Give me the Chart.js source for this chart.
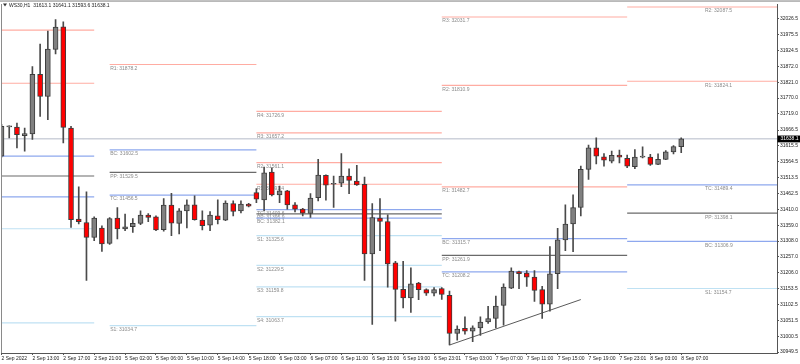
<!DOCTYPE html>
<html>
<head>
<meta charset="utf-8">
<script src="https://cdn.jsdelivr.net/npm/chart.js@4/dist/chart.umd.min.js"></script>
<style>
html,body{margin:0;padding:0;background:#fff;}
#wrap{width:800px;height:364px;position:relative;}
</style>
</head>
<body>
<div id="wrap"><canvas id="c" width="800" height="364"></canvas></div>
<script>
// ---------------- DATA ----------------
const chartTitle = 'WS30,H1  31613.1 31641.1 31593.6 31638.1';

const timeLabels = ['2 Sep 2022','2 Sep 13:00','2 Sep 17:00','2 Sep 21:00','5 Sep 02:00','5 Sep 06:00',
  '5 Sep 10:00','5 Sep 14:00','5 Sep 18:00','6 Sep 03:00','6 Sep 07:00','6 Sep 11:00','6 Sep 15:00',
  '6 Sep 19:00','6 Sep 23:01','7 Sep 03:00','7 Sep 07:00','7 Sep 11:00','7 Sep 15:00','7 Sep 19:00',
  '7 Sep 23:01','8 Sep 03:00','8 Sep 07:00'];
const timeTickBars = [0,4,8,12,16,20,24,28,32,36,40,44,48,52,56,60,64,68,72,76,80,84,88];

const priceTicks = [32026.5,31975.5,31924.5,31872.0,31821.0,31770.0,31719.0,31666.5,31615.5,31564.5,
  31513.5,31462.5,31410.0,31359.0,31308.0,31257.0,31206.0,31153.5,31102.5,31051.5,31000.5,30949.5];

const opens = [31582.2,31677.0,31676.4,31648.7,31653.9,31846.6,31775.0,31926.9,31999.8,31673.1,
  31378.9,31368.0,31319.8,31350.0,31300.5,31382.1,31346.8,31354.2,31364.8,31391.8,
  31386.3,31344.6,31423.9,31364.8,31405.6,31424.9,31375.7,31359.6,31389.5,31375.7,
  31429.0,31405.6,31427.1,31464.4,31440.9,31530.8,31457.0,31469.8,31424.9,31411.0,
  31396.9,31448.3,31520.2,31491.3,31494.6,31518.0,31501.9,31491.3,31266.5,31382.1,
  31371.2,31237.6,31151.8,31123.9,31172.1,31150.9,31139.9,31154.1,31132.6,31009.5,
  31025.6,31016.9,31027.5,31046.8,31057.7,31100.4,31156.0,31209.6,31204.2,31191.3,
  31150.9,31103.7,31202.3,31311.5,31362.9,31416.2,31539.5,31608.9,31580.0,31566.2,
  31585.5,31574.9,31547.9,31579.0,31579.0,31555.6,31571.6,31596.1,31613.1];
const highs = [31685.0,31680.2,31689.2,31673.1,31871.3,31944.2,31986.0,32023.2,32015.9,31678.6,
  31482.7,31466.6,31386.3,31357.4,31384.1,31416.2,31395.0,31380.8,31405.6,31396.9,
  31389.5,31445.1,31462.4,31413.0,31440.9,31453.8,31405.6,31403.3,31440.9,31437.7,
  31437.7,31437.7,31429.7,31477.2,31546.9,31544.7,31485.9,31471.4,31432.2,31413.6,
  31461.1,31571.6,31522.0,31518.0,31590.9,31541.4,31552.4,31514.8,31429.0,31445.1,
  31392.7,31242.7,31242.7,31221.5,31174.3,31153.4,31157.3,31157.3,31146.4,31033.9,
  31062.9,31033.9,31062.9,31097.2,31130.3,31170.1,31221.5,31211.3,31212.9,31212.9,
  31161.5,31289.9,31348.7,31424.9,31457.0,31550.1,31617.6,31641.0,31590.9,31598.3,
  31601.5,31585.5,31603.8,31612.1,31587.7,31589.6,31600.5,31616.6,31641.1];
const lows = [31579.0,31641.0,31608.9,31598.3,31635.9,31710.7,31700.1,31912.1,31625.0,31351.9,
  31362.9,31180.7,31309.2,31274.8,31297.0,31314.7,31341.3,31335.9,31360.6,31370.2,
  31341.3,31340.0,31325.3,31330.7,31350.0,31375.1,31343.6,31341.3,31362.9,31373.5,
  31389.5,31399.2,31418.4,31432.2,31405.6,31453.8,31432.2,31411.0,31402.4,31389.5,
  31384.1,31437.7,31439.9,31416.2,31483.6,31461.1,31487.5,31180.7,31038.4,31277.1,
  31159.2,31049.0,31091.8,31077.0,31118.7,31132.6,31130.3,31119.7,30972.0,30988.0,
  31007.3,30982.6,31003.1,31041.7,31027.5,31036.2,31154.1,31154.1,31161.5,31113.3,
  31057.7,31081.2,31154.1,31277.1,31273.9,31389.5,31507.4,31557.5,31550.1,31560.7,
  31560.7,31544.7,31541.4,31576.8,31552.4,31555.0,31571.0,31589.6,31593.6];
const closes = [31678.6,31678.6,31651.9,31655.2,31846.6,31775.0,31928.2,31998.8,31675.4,31376.7,
  31370.2,31319.8,31382.1,31298.6,31380.8,31346.8,31354.2,31364.8,31391.8,31384.1,
  31343.6,31423.9,31366.1,31405.6,31424.9,31376.7,31357.4,31391.8,31376.7,31430.3,
  31403.3,31427.1,31420.7,31443.2,31528.6,31457.0,31469.8,31424.9,31411.0,31398.2,
  31446.4,31521.2,31488.1,31494.6,31518.0,31504.2,31489.1,31266.5,31384.1,31371.2,
  31234.4,31151.8,31123.9,31170.1,31150.9,31139.9,31150.9,31135.8,31009.5,31023.4,
  31016.9,31027.5,31045.8,31057.7,31098.2,31159.2,31210.6,31202.3,31191.3,31148.6,
  31103.7,31202.3,31311.5,31362.9,31416.2,31539.5,31608.9,31582.2,31569.4,31584.5,
  31579.0,31550.1,31579.0,31582.2,31555.6,31571.6,31596.1,31613.1,31638.1];

// daily pivot segments (bar positions) and their levels: [name, labelled value, drawn level (optional)]
const segStartBar = [-1, 14, 33, 57, 81];
const segEndBar   = [12, 33, 57, 81, 101];
const segLabelBar = [null, 14, 33, 57, 91];
const pivots2Sep = [['R2',31989.2],['R1',31817.7],['BC',31582.2],['PP',31518.1],['TC',31450.5],['S1',31347.7],['S2',31043.5]];
const pivots5Sep = [['R1',31878.2],['BC',31602.5],['PP',31529.5],['TC',31456.5],['S1',31034.7]];
const pivots6Sep = [['R4',31726.9],['R3',31657.2],['R2',31561.1],['R1',31491.4],['TC',31409.6],['PP',31395.9],
  ['BC',31382.1],['S1',31325.6],['S2',31229.5],['S3',31159.8],['S4',31063.7]];
const pivots7Sep = [['R3',32031.7],['R2',31810.9],['R1',31482.7],['BC',31315.7],['PP',31261.9],['TC',31208.2]];
const pivots8Sep = [['R2',32087.5,32064.0],['R1',31824.1],['TC',31489.4],['PP',31398.1],['BC',31306.9],['S1',31154.7]];
const pivotDays = [pivots2Sep, pivots5Sep, pivots6Sep, pivots7Sep, pivots8Sep];

// trend line (bar, price)
const trendBars = [58, 75];
const trendPrices = [30972.0, 31118.9];

const lastPrice = 31638.1;
const yMin = 30946.3, yMax = 32073.7, xMin = 0, xMax = 100.4;

// ---------------- STYLES ----------------
const FONT = "'Liberation Sans', Arial, sans-serif";
function pivotColor(name){
  if (name[0] === 'R') return '#ffaca2';
  if (name[0] === 'S') return '#bfe1f3';
  if (name === 'PP') return '#6a6a6a';
  return '#8ea8ee';
}

const bars = opens.map((_, i) => i);
const datasets = [];
datasets.push({
  type:'bar', label:'body',
  data: bars.map(i => ({x:i, y:[opens[i], closes[i]]})),
  backgroundColor: bars.map(i => closes[i] >= opens[i] ? '#808080' : '#ff0000'),
  borderColor:'#3c3c3c', borderWidth:1, borderSkipped:false,
  barThickness:5, grouped:false, minBarLength:1, order:1
});
datasets.push({
  type:'bar', label:'wick',
  data: bars.map(i => ({x:i, y:[lows[i], highs[i]]})),
  backgroundColor:'#4a4a4a', borderWidth:0,
  barThickness:1, grouped:false, order:2
});
pivotDays.forEach((lv, d) => {
  lv.forEach(p => {
    const level = p.length > 2 ? p[2] : p[1];
    datasets.push({
      type:'line', label:p[0],
      data:[{x:segStartBar[d], y:level},{x:segEndBar[d], y:level}],
      borderColor: pivotColor(p[0]), borderWidth: p[0]==='PP' ? 1.2 : 1.2,
      pointRadius:0, order:5
    });
  });
});
datasets.push({
  type:'line', label:'trend',
  data:[{x:trendBars[0], y:trendPrices[0]},{x:trendBars[1], y:trendPrices[1]}],
  borderColor:'#5a5a5a', borderWidth:1, pointRadius:0, order:4
});
datasets.push({
  type:'line', label:'price',
  data:[{x:-1, y:lastPrice},{x:102, y:lastPrice}],
  borderColor:'#b4bac8', borderWidth:1, pointRadius:0, order:6
});

const pivotLabelPlugin = {
  id:'pivotLabels',
  beforeDatasetsDraw(chart){
    const {ctx, scales:{x, y}} = chart;
    ctx.save();
    ctx.beginPath();
    ctx.rect(chart.chartArea.left, chart.chartArea.top, chart.chartArea.right-chart.chartArea.left, chart.chartArea.bottom-chart.chartArea.top);
    ctx.clip();
    ctx.font = '5px ' + FONT;
    ctx.fillStyle = '#8a8a8a';
    ctx.textBaseline = 'middle';
    ctx.textAlign = 'left';
    pivotDays.forEach((lv, d) => {
      if (segLabelBar[d] === null) return;
      const px = x.getPixelForValue(segLabelBar[d]) + 0.5;
      lv.forEach(p => {
        const level = p.length > 2 ? p[2] : p[1];
        const py = y.getPixelForValue(level) + 4;
        ctx.fillText(p[0] + ': ' + p[1].toFixed(1), px, py);
      });
    });
    ctx.restore();
  }
};

const framePlugin = {
  id:'frame',
  afterDraw(chart){
    const {ctx, chartArea, scales:{y}} = chart;
    ctx.save();
    ctx.fillStyle = '#a8a8a8';
    ctx.fillRect(0, 0.3, 800, 1.5);
    ctx.fillStyle = '#8a8a8a';
    ctx.fillRect(1, chartArea.top, 1, chartArea.bottom - chartArea.top);
    // title
    ctx.fillStyle = '#333';
    ctx.beginPath();
    ctx.moveTo(3, 3.5); ctx.lineTo(7, 3.5); ctx.lineTo(5, 6.5); ctx.closePath(); ctx.fill();
    ctx.font = '5px ' + FONT;
    ctx.textBaseline = 'middle';
    ctx.textAlign = 'left';
    ctx.fillStyle = '#222';
    ctx.fillText(chartTitle, 9, 5.3);
    // current price box
    const py = y.getPixelForValue(lastPrice);
    ctx.fillStyle = '#000';
    ctx.fillRect(chartArea.right + 0.5, py - 3.3, 23, 6.8);
    ctx.fillStyle = '#fff';
    ctx.fillText(lastPrice.toFixed(1), chartArea.right + 3.5, py + 0.2);
    ctx.restore();
  }
};

Chart.defaults.font.family = FONT;
Chart.defaults.font.size = 5;
Chart.defaults.color = '#222';

new Chart(document.getElementById('c'), {
  type:'bar',
  data:{ datasets },
  options:{
    responsive:false, animation:false, devicePixelRatio:1,
    layout:{ padding:{ top:2, left:1.5, right:0, bottom:0 } },
    plugins:{ legend:{display:false}, tooltip:{enabled:false}, title:{display:false} },
    scales:{
      x:{
        type:'linear', min:xMin, max:xMax, offset:false,
        grid:{ display:true, drawOnChartArea:false, drawTicks:true, tickLength:2, color:'#555', offset:false },
        border:{ display:true, color:'#555', width:1 },
        afterBuildTicks(s){ s.ticks = timeTickBars.map(v => ({value:v})); },
        afterFit(s){ s.height = 11; },
        ticks:{ autoSkip:false, maxRotation:0, minRotation:0, align:'start', padding:1,
          callback(v){ const k = timeTickBars.indexOf(v); return k >= 0 ? timeLabels[k] : ''; } }
      },
      y:{
        type:'linear', position:'right', min:yMin, max:yMax, beginAtZero:false,
        grid:{ display:true, drawOnChartArea:false, drawTicks:true, tickLength:2, color:'#555' },
        border:{ display:true, color:'#555', width:1 },
        afterBuildTicks(s){ s.ticks = priceTicks.map(v => ({value:v})); },
        afterFit(s){ s.width = 23; },
        ticks:{ autoSkip:false, padding:1, callback(v){ return Number(v).toFixed(1); } }
      }
    }
  },
  plugins:[pivotLabelPlugin, framePlugin]
});
</script>
</body>
</html>
